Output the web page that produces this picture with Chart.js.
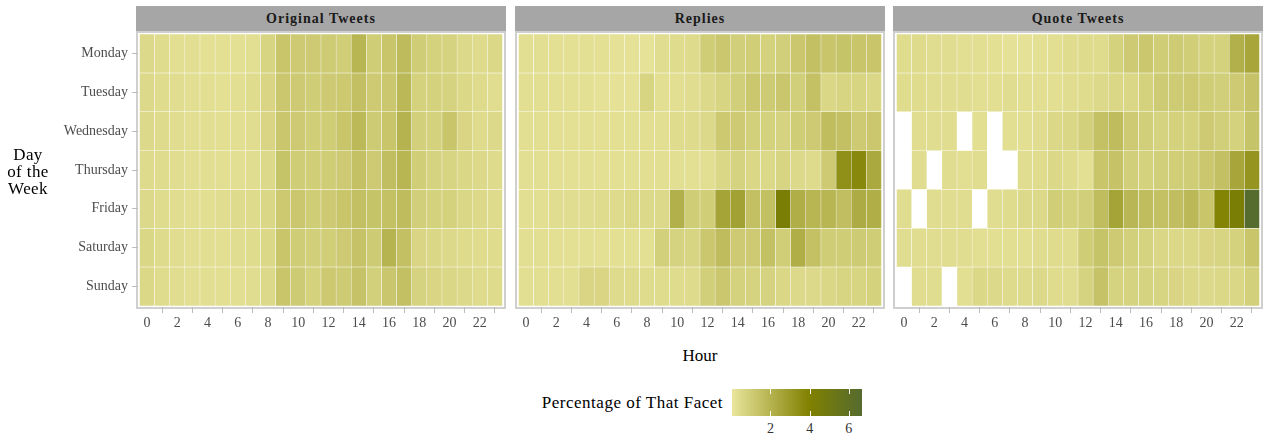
<!DOCTYPE html>
<html><head><meta charset="utf-8">
<script src="https://cdn.jsdelivr.net/npm/chart.js@4.4.0/dist/chart.umd.min.js"></script>
<style>
html,body{margin:0;padding:0;background:#fff;}
body{width:1263px;height:437px;position:relative;overflow:hidden;font-family:"Liberation Serif","Times New Roman",serif;}
.strip{position:absolute;top:6px;height:25px;background:#a6a6a6;color:#1a1a1a;font-weight:bold;font-size:14px;letter-spacing:1px;text-align:center;line-height:25px;}
.panel{position:absolute;top:31px;height:278px;width:370px;box-sizing:border-box;border:2px solid #cfcfcf;background:#fff;}
canvas{position:absolute;}
.ytitle{position:absolute;left:0;width:56px;top:146px;text-align:center;font-size:17px;line-height:17px;letter-spacing:0.4px;color:#000;}
.xtitle{position:absolute;left:600px;width:200px;top:346px;text-align:center;font-size:17px;line-height:20px;color:#000;}
.ltitle{position:absolute;left:480px;width:243px;top:393px;text-align:right;font-size:17px;line-height:20px;letter-spacing:0.5px;color:#000;}
.lbar{position:absolute;left:732px;top:389px;width:130px;height:27px;}
.ltick{position:absolute;width:1px;height:5px;background:#fff;}
.llab{position:absolute;top:421px;width:20px;margin-left:-10px;text-align:center;font-size:14px;line-height:16px;color:#333;}
</style></head><body>
<script>
// ---------------- data ----------------
const hours = [0,1,2,3,4,5,6,7,8,9,10,11,12,13,14,15,16,17,18,19,20,21,22,23];
const days = ['Monday','Tuesday','Wednesday','Thursday','Friday','Saturday','Sunday'];
const facets = ['Original Tweets','Replies','Quote Tweets'];
const xTickLabels = [0,2,4,6,8,10,12,14,16,18,20,22];
const legendTicks = [2,4,6];

// percentage of that facet, rows = days (Mon..Sun), columns = hours 0..23; null = no tweets
const originalTweets = [
  [0.5,0.4,0.3,0.3,0.25,0.25,0.25,0.3,0.7,1.3,1.1,1.1,1.05,0.95,1.9,1.0,1.3,1.7,1.0,0.8,0.75,0.5,0.45,0.55],
  [0.5,0.4,0.35,0.3,0.3,0.25,0.3,0.4,0.65,1.2,1.1,1.0,1.1,1.15,1.5,1.1,1.2,1.8,0.8,0.8,0.75,0.55,0.45,0.35],
  [0.5,0.45,0.35,0.3,0.3,0.3,0.3,0.35,0.65,1.25,1.1,0.95,1.0,1.3,1.75,1.05,1.3,2.0,0.85,0.8,1.3,0.65,0.45,0.5],
  [0.45,0.4,0.35,0.3,0.3,0.3,0.3,0.35,0.5,1.35,1.0,0.95,1.0,1.1,1.45,1.1,1.55,1.9,0.95,0.75,0.7,0.6,0.5,0.45],
  [0.5,0.4,0.35,0.3,0.3,0.35,0.45,0.45,0.6,1.15,1.2,1.0,1.1,1.3,1.5,1.35,1.45,1.65,0.9,0.8,0.8,0.6,0.5,0.45],
  [0.6,0.45,0.35,0.3,0.3,0.3,0.35,0.4,0.55,1.3,1.0,0.9,0.95,1.1,1.4,1.05,1.95,1.5,0.65,0.6,0.5,0.45,0.4,0.4],
  [0.55,0.4,0.35,0.3,0.3,0.3,0.3,0.35,0.5,1.3,1.05,0.8,1.15,1.05,1.4,0.85,1.25,1.5,0.75,0.65,0.6,0.5,0.45,0.45]
];
const replies = [
  [0.3,0.3,0.25,0.25,0.25,0.25,0.2,0.2,0.15,0.35,0.4,0.45,1.0,1.2,0.9,0.95,0.8,0.9,1.2,1.5,1.3,1.35,1.3,1.3],
  [0.3,0.3,0.25,0.25,0.25,0.2,0.2,0.2,0.7,0.3,0.3,0.35,0.5,0.7,0.9,1.2,1.05,1.25,0.9,1.45,0.6,0.7,0.7,0.6],
  [0.3,0.3,0.25,0.25,0.25,0.25,0.25,0.25,0.3,0.3,0.4,0.45,0.5,1.15,1.1,0.85,0.8,0.75,1.0,1.1,1.6,1.5,1.1,1.2],
  [0.3,0.3,0.25,0.25,0.25,0.25,0.25,0.25,0.3,0.3,0.3,0.25,0.3,0.6,0.75,0.6,0.55,0.7,0.5,0.45,1.1,3.4,3.7,2.4],
  [0.3,0.3,0.35,0.35,0.35,0.4,0.45,0.55,0.5,0.5,2.1,1.0,0.95,2.6,2.7,1.5,1.5,4.3,2.2,1.9,1.9,1.55,2.3,2.2],
  [0.3,0.3,0.25,0.25,0.25,0.25,0.25,0.25,0.25,0.85,0.75,0.7,1.2,1.65,1.1,1.1,1.45,0.95,2.2,1.45,1.0,1.0,1.05,1.0],
  [0.3,0.3,0.3,0.3,0.65,0.65,0.45,0.45,0.4,0.4,0.4,0.45,0.9,1.2,0.8,0.75,0.75,0.6,0.5,0.5,0.6,0.7,0.7,0.8]
];
const quoteTweets = [
  [0.4,0.45,0.35,0.35,0.3,0.3,0.25,0.2,0.2,0.25,0.3,0.4,0.45,0.4,0.8,1.1,1.2,1.0,1.05,0.95,0.8,0.8,2.1,2.5],
  [0.4,0.4,0.35,0.35,0.35,0.3,0.3,0.35,0.3,0.3,0.3,0.35,0.4,0.5,0.6,0.6,0.8,1.05,1.05,1.15,1.0,0.9,1.1,1.4],
  [null,0.35,0.35,0.35,null,0.3,null,0.3,0.3,0.35,0.55,0.6,0.85,1.45,1.65,1.1,0.9,0.75,0.8,0.8,1.1,0.9,0.8,1.35],
  [null,0.35,null,0.35,0.3,0.35,null,null,0.35,0.4,0.55,0.4,0.25,1.3,1.4,0.9,0.8,0.9,0.95,1.0,1.2,1.5,2.5,3.2],
  [0.35,null,0.35,0.35,0.35,null,0.35,0.4,0.5,0.5,0.95,0.8,0.9,1.6,2.6,1.85,1.6,1.45,1.55,1.8,1.3,3.9,4.3,6.6],
  [0.35,0.35,0.35,0.35,0.35,0.3,0.3,0.3,0.3,0.35,0.4,0.35,1.0,1.35,1.1,0.85,0.75,0.6,0.55,0.55,0.65,0.7,0.8,1.3],
  [null,0.35,0.35,null,0.3,0.55,0.5,0.45,0.45,0.5,0.4,0.35,0.75,1.4,0.75,0.75,0.75,0.7,0.65,0.55,0.5,0.55,0.6,0.85]
];
const facetValues = [originalTweets, replies, quoteTweets];

// ---------------- colour scale ----------------
const legendMin = 0.04, legendMax = 6.67;
const stops = [[0,[234,230,158]],[4,[128,128,0]],[6.67,[85,107,47]]];
function colorFor(v){
  if (v <= stops[0][0]) return 'rgb('+stops[0][1].join(',')+')';
  for (let i=1;i<stops.length;i++){
    if (v <= stops[i][0] || i===stops.length-1){
      const a=stops[i-1], b=stops[i];
      let t=(v-a[0])/(b[0]-a[0]); t=Math.max(0,Math.min(1,t));
      const c=a[1].map((x,k)=>Math.round(x+(b[1][k]-x)*t));
      return 'rgb('+c.join(',')+')';
    }
  }
}

// ---------------- layout ----------------
const panelLeft = [136, 515, 893];
const FONT = '"Liberation Serif","Times New Roman",serif';

facets.forEach((name, p) => {
  const strip = document.createElement('div');
  strip.className='strip'; strip.style.left=panelLeft[p]+'px'; strip.style.width='370px';
  strip.textContent = name; document.body.appendChild(strip);
  const panel = document.createElement('div');
  panel.className='panel'; panel.style.left=panelLeft[p]+'px';
  document.body.appendChild(panel);
});

facets.forEach((name, p) => {
  const innerLeft = panelLeft[p] + 2;
  const innerW = 366;
  const yAxisW = p === 0 ? innerLeft : 0;
  const cv = document.createElement('canvas');
  const W = yAxisW + innerW, H = 274 + 34;
  cv.width = W; cv.height = H;
  cv.style.width = W+'px'; cv.style.height = H+'px';
  cv.style.left = (p===0 ? 0 : innerLeft) + 'px';
  cv.style.top = '33px';
  document.body.appendChild(cv);
  const vals = facetValues[p];
  const datasets = days.map((day, d) => ({
    label: day,
    data: hours.filter(h => vals[d][h] !== null).map(h => ({x: h, y: [d - 0.5, d + 0.5], v: vals[d][h]})),
    backgroundColor: ctx => ctx.raw ? colorFor(ctx.raw.v) : '#fff',
    borderColor: 'rgba(255,255,255,0.75)',
    borderWidth: 0.5,
    borderSkipped: false,
    barPercentage: 1,
    categoryPercentage: 1,
    grouped: false
  }));
  new Chart(cv, {
    type: 'bar',
    data: { datasets },
    options: {
      responsive: false, animation: false, devicePixelRatio: 1,
      layout: { padding: 0 },
      plugins: { legend: { display: false }, tooltip: { enabled: false } },
      scales: {
        x: {
          type: 'linear', min: -0.6, max: 23.6, offset: false,
          afterBuildTicks: s => { s.ticks = xTickLabels.map(v => ({value: v})); },
          ticks: { autoSkip: false, maxRotation: 0, color: '#4d4d4d', font: { family: FONT, size: 14 }, padding: 2, callback: v => String(v) },
          grid: { drawOnChartArea: false, drawTicks: true, tickLength: 6, tickWidth: 1, tickColor: '#bdbdbd' },
          border: { display: false },
          afterFit: s => { s.height = 34; s.paddingLeft = 0; s.paddingRight = 0; }
        },
        y: {
          type: 'linear', min: -0.53, max: 6.53, reverse: true, display: p === 0,
          afterBuildTicks: s => { s.ticks = days.map((d, i) => ({value: i})); },
          ticks: { autoSkip: false, color: '#4d4d4d', font: { family: FONT, size: 14 }, padding: 4, callback: v => days[v] },
          grid: { drawOnChartArea: false, drawTicks: true, tickLength: 6, tickWidth: 1, tickColor: '#bdbdbd' },
          border: { display: false },
          afterFit: s => { s.width = yAxisW; s.paddingTop = 0; s.paddingBottom = 0; }
        }
      }
    }
  });
});

// titles
const yt = document.createElement('div'); yt.className='ytitle'; yt.innerHTML='Day<br>of the<br>Week'; document.body.appendChild(yt);
const xt = document.createElement('div'); xt.className='xtitle'; xt.textContent='Hour'; document.body.appendChild(xt);

// legend (colour bar)
const lt = document.createElement('div'); lt.className='ltitle'; lt.textContent='Percentage of That Facet'; document.body.appendChild(lt);
const bar = document.createElement('div'); bar.className='lbar';
const gstops = [];
for (let i=0;i<=40;i++){ const v = legendMin + (legendMax-legendMin)*i/40; gstops.push(colorFor(v)+' '+(i*2.5)+'%'); }
bar.style.background = 'linear-gradient(to right,'+gstops.join(',')+')';
document.body.appendChild(bar);
legendTicks.forEach(v => {
  const x = 732 + (v - legendMin)/(legendMax-legendMin)*130;
  [389, 411].forEach(top => {
    const t = document.createElement('div'); t.className='ltick';
    t.style.left = Math.round(x)+'px'; t.style.top = top+'px'; document.body.appendChild(t);
  });
  const l = document.createElement('div'); l.className='llab'; l.style.left = x+'px'; l.textContent = v; document.body.appendChild(l);
});
</script>
</body></html>
